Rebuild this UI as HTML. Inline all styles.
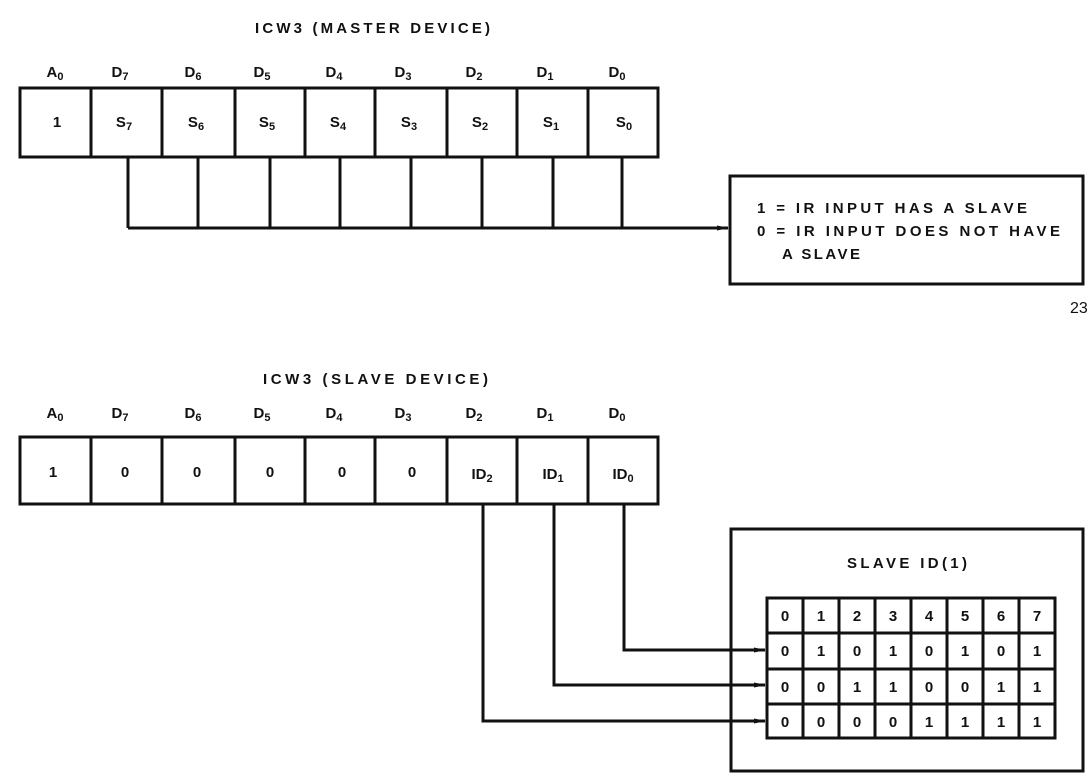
<!DOCTYPE html>
<html><head><meta charset="utf-8"><style>
html,body{margin:0;padding:0;background:#fff;}
svg{display:block;}
text{font-family:"Liberation Sans",sans-serif;font-weight:bold;fill:#111;}
</style></head><body>
<svg width="1092" height="776" viewBox="0 0 1092 776" xmlns="http://www.w3.org/2000/svg">
<defs><marker id="ar" markerWidth="12" markerHeight="8" refX="11" refY="4" orient="auto" markerUnits="userSpaceOnUse"><path d="M0,1.5 L12,4 L0,6.5 Z" fill="#111"/></marker></defs>
<g stroke="#111" stroke-width="3" fill="none">
<!-- master register -->
<rect x="20" y="88" width="638" height="69"/>
<path d="M91 88V157M162 88V157M235 88V157M305 88V157M375 88V157M447 88V157M517 88V157M588 88V157"/>
<path d="M128 157V228M198 157V228M270 157V228M340 157V228M411 157V228M482 157V228M553 157V228M622 157V228"/>
<path d="M128 228H728" marker-end="url(#ar)"/>
<rect x="730" y="176" width="353" height="108"/>
<!-- slave register -->
<rect x="20" y="437" width="638" height="67"/>
<path d="M91 437V504M162 437V504M235 437V504M305 437V504M375 437V504M447 437V504M517 437V504M588 437V504"/>
<path d="M624 504V650H765" marker-end="url(#ar)"/>
<path d="M554 504V685H765" marker-end="url(#ar)"/>
<path d="M483 504V721H765" marker-end="url(#ar)"/>
<rect x="731" y="529" width="352" height="242"/>
<rect x="767" y="598" width="288" height="140"/>
<path d="M767 633H1055M767 669H1055M767 704H1055"/>
<path d="M803 598V738M839 598V738M875 598V738M911 598V738M947 598V738M983 598V738M1019 598V738"/>
</g>
<g font-size="15">
<text x="255" y="33" textLength="235" lengthAdjust="spacing">ICW3 (MASTER DEVICE)</text>
<text x="263" y="384" textLength="225" lengthAdjust="spacing">ICW3 (SLAVE DEVICE)</text>
</g>
<g font-size="15" text-anchor="middle">
<text x="55" y="77">A<tspan font-size="11" dy="3">0</tspan></text>
<text x="120" y="77">D<tspan font-size="11" dy="3">7</tspan></text>
<text x="193" y="77">D<tspan font-size="11" dy="3">6</tspan></text>
<text x="262" y="77">D<tspan font-size="11" dy="3">5</tspan></text>
<text x="334" y="77">D<tspan font-size="11" dy="3">4</tspan></text>
<text x="403" y="77">D<tspan font-size="11" dy="3">3</tspan></text>
<text x="474" y="77">D<tspan font-size="11" dy="3">2</tspan></text>
<text x="545" y="77">D<tspan font-size="11" dy="3">1</tspan></text>
<text x="617" y="77">D<tspan font-size="11" dy="3">0</tspan></text>
<text x="57" y="127">1</text>
<text x="124" y="127">S<tspan font-size="11" dy="3">7</tspan></text>
<text x="196" y="127">S<tspan font-size="11" dy="3">6</tspan></text>
<text x="267" y="127">S<tspan font-size="11" dy="3">5</tspan></text>
<text x="338" y="127">S<tspan font-size="11" dy="3">4</tspan></text>
<text x="409" y="127">S<tspan font-size="11" dy="3">3</tspan></text>
<text x="480" y="127">S<tspan font-size="11" dy="3">2</tspan></text>
<text x="551" y="127">S<tspan font-size="11" dy="3">1</tspan></text>
<text x="624" y="127">S<tspan font-size="11" dy="3">0</tspan></text>

<text x="55" y="418">A<tspan font-size="11" dy="3">0</tspan></text>
<text x="120" y="418">D<tspan font-size="11" dy="3">7</tspan></text>
<text x="193" y="418">D<tspan font-size="11" dy="3">6</tspan></text>
<text x="262" y="418">D<tspan font-size="11" dy="3">5</tspan></text>
<text x="334" y="418">D<tspan font-size="11" dy="3">4</tspan></text>
<text x="403" y="418">D<tspan font-size="11" dy="3">3</tspan></text>
<text x="474" y="418">D<tspan font-size="11" dy="3">2</tspan></text>
<text x="545" y="418">D<tspan font-size="11" dy="3">1</tspan></text>
<text x="617" y="418">D<tspan font-size="11" dy="3">0</tspan></text>
<text x="53" y="477">1</text>
<text x="125" y="477">0</text>
<text x="197" y="477">0</text>
<text x="270" y="477">0</text>
<text x="342" y="477">0</text>
<text x="412" y="477">0</text>
<text x="482" y="479">ID<tspan font-size="11" dy="3">2</tspan></text>
<text x="553" y="479">ID<tspan font-size="11" dy="3">1</tspan></text>
<text x="623" y="479">ID<tspan font-size="11" dy="3">0</tspan></text>
</g>
<g font-size="15">
<text x="757" y="213" textLength="270" lengthAdjust="spacing">1 = IR INPUT HAS A SLAVE</text>
<text x="757" y="236" textLength="303" lengthAdjust="spacing">0 = IR INPUT DOES NOT HAVE</text>
<text x="782" y="259" textLength="78" lengthAdjust="spacing">A SLAVE</text>
<text x="847" y="568" textLength="120" lengthAdjust="spacing">SLAVE ID(1)</text>
</g>
<text x="1070" y="313" font-size="16" style="font-weight:normal">23</text>
<g font-size="15" text-anchor="middle">
<text x="785" y="621">0</text><text x="821" y="621">1</text><text x="857" y="621">2</text><text x="893" y="621">3</text><text x="929" y="621">4</text><text x="965" y="621">5</text><text x="1001" y="621">6</text><text x="1037" y="621">7</text>
<text x="785" y="656">0</text><text x="821" y="656">1</text><text x="857" y="656">0</text><text x="893" y="656">1</text><text x="929" y="656">0</text><text x="965" y="656">1</text><text x="1001" y="656">0</text><text x="1037" y="656">1</text>
<text x="785" y="692">0</text><text x="821" y="692">0</text><text x="857" y="692">1</text><text x="893" y="692">1</text><text x="929" y="692">0</text><text x="965" y="692">0</text><text x="1001" y="692">1</text><text x="1037" y="692">1</text>
<text x="785" y="727">0</text><text x="821" y="727">0</text><text x="857" y="727">0</text><text x="893" y="727">0</text><text x="929" y="727">1</text><text x="965" y="727">1</text><text x="1001" y="727">1</text><text x="1037" y="727">1</text>
</g>
</svg>
</body></html>
